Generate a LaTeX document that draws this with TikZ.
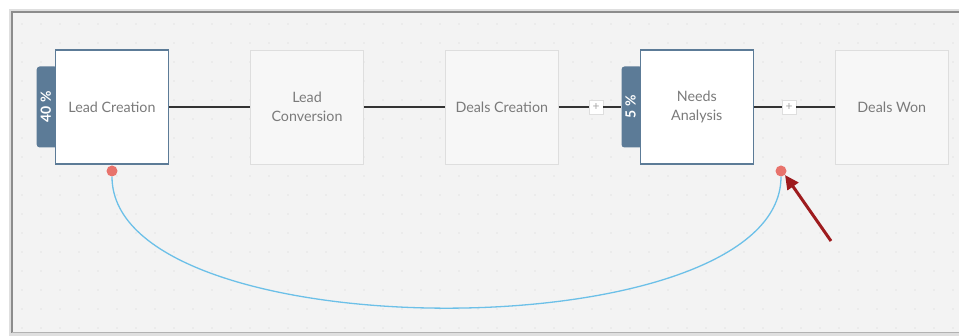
\documentclass[tikz,border=0pt]{standalone}
\usepackage{fontspec}
\setmainfont{Lato}
\usepackage{xcolor}
\usepackage{tikz}
\usetikzlibrary{positioning,arrows.meta}
\definecolor{canvasgrey}{HTML}{F3F3F3}
\definecolor{framegrey}{HTML}{8C8C8C}
\definecolor{stageblue}{HTML}{5C7B97}
\definecolor{labelgrey}{HTML}{7A7A7A}
\definecolor{idlegrey}{HTML}{F7F7F7}
\definecolor{idleline}{HTML}{DEDEDE}
\definecolor{portred}{HTML}{E8736C}
\definecolor{linkblue}{HTML}{6CC0E8}
\definecolor{pointred}{HTML}{9E1B1E}
\tikzset{
    every node/.style={font=\fontsize{14.3}{19}\selectfont, text=labelgrey},
    stage/.style={draw=stageblue, line width=1.2pt, fill=white, minimum width=113pt, minimum height=114pt, align=center, inner sep=0pt},
    idlestage/.style={stage, draw=idleline, line width=0.8pt, fill=idlegrey},
    ratetab/.style={fill=stageblue, rounded corners=3pt, minimum width=21pt, minimum height=81pt, inner sep=0pt},
    ratetext/.style={rotate=90, text=white, font=\fontsize{14}{16}\selectfont\bfseries},
    plusbox/.style={draw=idleline, fill=white, minimum size=14pt, inner sep=0pt, text=gray!70, font=\fontsize{12}{12}\selectfont},
    link/.style={draw=black!80, line width=1.2pt},
    port/.style={circle, fill=portred, minimum size=11pt, inner sep=0pt}
}

\begin{document}
\begin{tikzpicture}[x=1pt,y=-1pt]
                \useasboundingbox (0,0) rectangle (959,336);
                % Draw canvas with frame
                \fill[white] (0,0) rectangle (959,336);
                \fill[gray!25] (9,9) rectangle (959,336);
                \fill[canvasgrey] (12,12) rectangle (959,333);
                \draw[framegrey, line width=2.5pt] (12,333) -- (12,12) -- (959,12);
                \draw[gray!60, line width=1pt] (12,333) -- (959,333);
                
                % Draw dot grid
                \foreach \x in {22,41,...,959} {
                    \foreach \y in {24,43,...,330} {
                        \fill[gray!35] (\x,\y) circle (0.7pt);
                    }
                }
                
                % Draw stages
                \node[stage] (lead) at (112,107) {Lead Creation};
                \node[idlestage, right=81pt of lead] (conv) {Lead\\Conversion};
                \node[idlestage, right=81pt of conv] (deals) {Deals Creation};
                \node[stage, right=81pt of deals] (needs) {Needs\\Analysis};
                \node[idlestage, right=81pt of needs] (won) {Deals Won};
                
                % Draw rate tabs
                \node[ratetab, anchor=east] (leadrate) at ([xshift=3pt]lead.west) {};
                \node[ratetab, anchor=east] (needsrate) at ([xshift=3pt]needs.west) {};
                \node[ratetext] at ([xshift=-1.5pt]leadrate.center) {40 \%};
                \node[ratetext] at ([xshift=-1.5pt]needsrate.center) {5 \%};
                \node[stage] at (lead) {Lead Creation};
                \node[stage] at (needs) {Needs\\Analysis};
                
                % Draw links between stages
                \node[plusbox] (plusa) at (596,107) {+};
                \node[plusbox] (plusb) at (789,107) {+};
                \draw[link] (lead.east) -- (conv.west);
                \draw[link] (conv.east) -- (deals.west);
                \draw[link] (deals.east) -- (plusa.west);
                \draw[link] (plusa.east) -- (needsrate.west);
                \draw[link] (needs.east) -- (plusb.west);
                \draw[link] (plusb.east) -- (won.west);
                
                % Draw loop back connector
                \node[port] (porta) at (112,171) {};
                \node[port] (portb) at (781,171) {};
                \draw[linkblue, line width=1.3pt] (porta.south) .. controls (112,352) and (781,352) .. (portb.south);
                
                % Pointer
                \coordinate (tail) at (831,241);
                \draw[pointred, line width=3pt, -{Triangle[length=14pt,width=13pt]}] (tail) -- (portb.south east);
            \end{tikzpicture}
\end{document}
